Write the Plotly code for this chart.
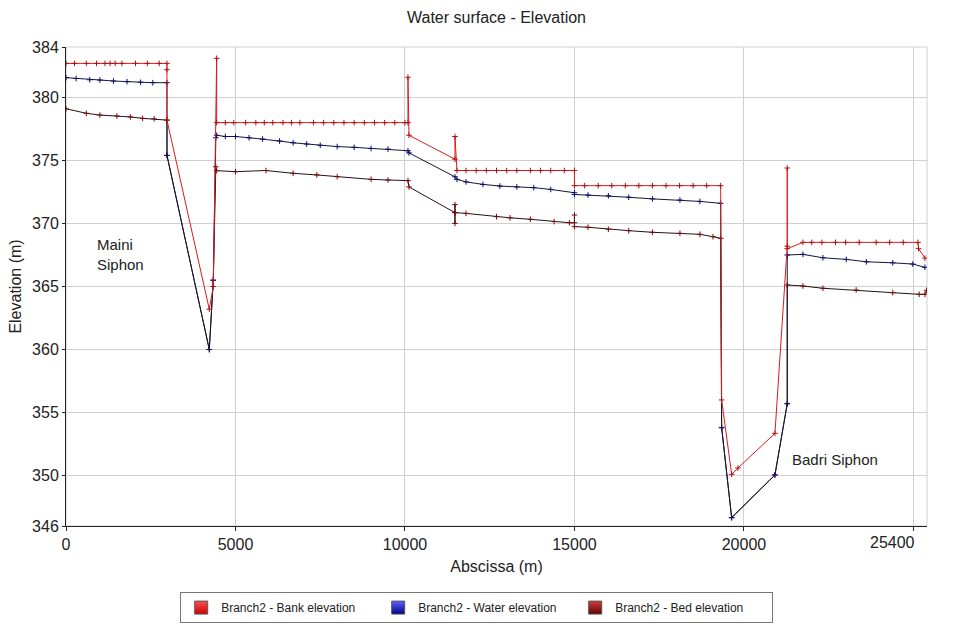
import plotly.graph_objects as go

# ---------------- data ----------------
bank_x = [0, 250, 600, 900, 1150, 1300, 1450, 1650, 2050, 2400, 2750, 2979, 2979, 2979,
          4227, 4345, 4445, 4445, 4700, 4950, 5300, 5600, 5850, 6100, 6400, 6650, 6900,
          7300, 7600, 7900, 8200, 8500, 8800, 9100, 9400, 9700, 10000, 10088, 10088,
          10118, 11475, 11475, 11534, 11800, 12100, 12400, 12700, 13000, 13300, 13700,
          14000, 14300, 14700, 15000, 15000, 15300, 15700, 16100, 16500, 16900, 17300,
          17700, 18100, 18500, 18900, 19313, 19342, 19637, 19823, 20914, 21277, 21277,
          21277, 21740, 22000, 22300, 22700, 23000, 23400, 23900, 24300, 24700, 25133,
          25150, 25339]
bank_y = [382.7, 382.7, 382.7, 382.7, 382.7, 382.7, 382.7, 382.7, 382.7, 382.7, 382.7,
          382.7, 382.2, 378.2, 363.2, 365.0, 383.1, 378.0, 378.0, 378.0, 378.0, 378.0,
          378.0, 378.0, 378.0, 378.0, 378.0, 378.0, 378.0, 378.0, 378.0, 378.0, 378.0,
          378.0, 378.0, 378.0, 378.0, 378.0, 381.6, 377.0, 375.1, 376.9, 374.2, 374.2,
          374.2, 374.2, 374.2, 374.2, 374.2, 374.2, 374.2, 374.2, 374.2, 374.2, 373.0,
          373.0, 373.0, 373.0, 373.0, 373.0, 373.0, 373.0, 373.0, 373.0, 373.0, 373.0,
          356.0, 350.1, 350.6, 353.35, 368.2, 374.4, 368.0, 368.5, 368.5, 368.5, 368.5,
          368.5, 368.5, 368.5, 368.5, 368.5, 368.5, 368.0, 367.25]

water_x = [0, 300, 700, 1000, 1400, 1800, 2200, 2560, 2979, 2979, 4227, 4345, 4420, 4445,
           4700, 5000, 5400, 5800, 6300, 6700, 7100, 7500, 8000, 8500, 9000, 9500, 10088,
           10118, 11475, 11534, 11800, 12300, 12800, 13300, 13800, 14300, 15000, 15000,
           15400, 16000, 16600, 17300, 18112, 18700, 19313, 19342, 19637, 20914, 21277,
           21277, 21740, 22330, 23020, 23610, 24390, 24980, 25339]
water_y = [381.57, 381.5, 381.4, 381.38, 381.3, 381.25, 381.2, 381.17, 381.17, 375.4,
           360.0, 365.5, 376.8, 377.0, 376.9, 376.9, 376.8, 376.7, 376.54, 376.4, 376.3,
           376.2, 376.1, 376.04, 375.95, 375.9, 375.77, 375.6, 373.7, 373.5, 373.3, 373.1,
           372.97, 372.9, 372.84, 372.7, 372.44, 372.3, 372.26, 372.2, 372.08, 371.95,
           371.86, 371.75, 371.6, 353.8, 346.66, 350.05, 355.7, 367.5, 367.55, 367.28,
           367.15, 366.96, 366.88, 366.78, 366.52]

bed_x = [0, 600, 1000, 1500, 1900, 2260, 2600, 2979, 2979, 4227, 4345, 4420, 4445, 5000,
         5900, 6700, 7400, 8000, 9000, 9500, 10088, 10118, 11475, 11475, 11475, 11475,
         11800, 12700, 13100, 13700, 14400, 14850, 15000, 15000, 15000, 15400, 16000,
         16600, 17300, 18112, 18702, 19086, 19313, 19342, 19637, 20914, 21277, 21277,
         21740, 22330, 23310, 24390, 25170, 25339, 25389]
bed_y = [379.1, 378.74, 378.6, 378.53, 378.45, 378.34, 378.3, 378.2, 375.4, 360.0, 365.5,
         374.5, 374.19, 374.11, 374.2, 373.98, 373.85, 373.71, 373.5, 373.45, 373.4,
         372.9, 370.86, 371.5, 370.0, 370.86, 370.8, 370.54, 370.45, 370.33, 370.15,
         370.06, 370.06, 370.67, 369.75, 369.7, 369.54, 369.43, 369.3, 369.22, 369.14,
         368.95, 368.82, 353.8, 346.66, 350.05, 355.7, 365.12, 365.04, 364.86, 364.72,
         364.51, 364.38, 364.38, 364.7]

series_names = ["Branch2 - Bank elevation", "Branch2 - Water elevation",
                "Branch2 - Bed elevation"]
y_ticks = [346, 350, 355, 360, 365, 370, 375, 380, 384]
x_ticks = [0, 5000, 10000, 15000, 20000, 25000]
x_ticktext = ["0", "5000", "10000", "15000", "20000", ""]
last_x_label = "25400"

FONT = "Liberation Sans, Arial, sans-serif"

fig = go.Figure()

# draw order: bed, water, bank (bank on top)
fig.add_trace(go.Scatter(
    x=bed_x, y=bed_y, mode="lines+markers", showlegend=False,
    line=dict(color="#2a1010", width=1),
    marker=dict(symbol="cross-thin", size=4, line=dict(color="#7a0a0a", width=1))))
fig.add_trace(go.Scatter(
    x=water_x, y=water_y, mode="lines+markers", showlegend=False,
    line=dict(color="#15153a", width=1),
    marker=dict(symbol="cross-thin", size=4, line=dict(color="#0a0a70", width=1))))
fig.add_trace(go.Scatter(
    x=bank_x, y=bank_y, mode="lines+markers", showlegend=False,
    line=dict(color="#dd1a1a", width=1),
    marker=dict(symbol="cross-thin", size=4, line=dict(color="#b01010", width=1))))

# legend swatches
sw_colors = [("#ff5050", "#cc0000"), ("#6060ff", "#000080"), ("#d04040", "#600000")]
for name, (c1, c2) in zip(series_names, sw_colors):
    fig.add_trace(go.Scatter(
        x=[None], y=[None], mode="markers", name=name,
        marker=dict(symbol="square", size=13, color=c1,
                    gradient=dict(type="vertical", color=c2),
                    line=dict(color="#555555", width=1))))

fig.update_layout(
    width=958, height=630,
    margin=dict(l=66, r=31, t=47, b=104, autoexpand=False),
    paper_bgcolor="white", plot_bgcolor="white",
    font=dict(family=FONT, size=16, color="#222222"),
    title=dict(text="Water surface - Elevation", x=0.5, xref="paper", y=0.973,
               yanchor="middle", font=dict(family=FONT, size=16, color="#222222")),
    showlegend=True,
    legend=dict(orientation="h", x=0.477, xanchor="center", y=-0.138, yanchor="top",
                bordercolor="#777777", borderwidth=1, bgcolor="white",
                font=dict(family=FONT, size=12, color="#222222"),
                itemwidth=30, entrywidth=152, entrywidthmode="pixels"),
    xaxis=dict(range=[0, 25400], tickvals=x_ticks, ticktext=x_ticktext,
               automargin=False,
               showgrid=True, gridcolor="#cfcfcf", gridwidth=1, zeroline=False,
               showline=True, linecolor="#222222", linewidth=1,
               ticks="outside", ticklen=4, tickcolor="#222222",
               title=dict(text="Abscissa (m)", standoff=8,
                          font=dict(family=FONT, size=16, color="#222222"))),
    yaxis=dict(range=[346, 384], tickvals=y_ticks, automargin=False,
               showgrid=True, gridcolor="#cfcfcf", gridwidth=1, zeroline=False,
               showline=True, linecolor="#222222", linewidth=1,
               ticks="outside", ticklen=3, tickcolor="#222222",
               title=dict(text="Elevation (m)", standoff=6,
                          font=dict(family=FONT, size=16, color="#222222"))),
    shapes=[dict(type="rect", xref="paper", yref="paper", x0=0, y0=0, x1=1, y1=1,
                 line=dict(color="#cfcfcf", width=1), layer="below")],
    annotations=[
        dict(text="Maini<br>Siphon", x=850, y=367.5, xref="x", yref="y",
             xanchor="left", yanchor="middle", align="left", showarrow=False,
             font=dict(family=FONT, size=15, color="#222222")),
        dict(text="Badri Siphon", x=21357, y=351.3, xref="x", yref="y",
             xanchor="left", yanchor="middle", align="left", showarrow=False,
             font=dict(family=FONT, size=15, color="#222222")),
        dict(text=last_x_label, x=25000, y=0, xref="x", yref="paper",
             xanchor="right", yanchor="top", xshift=4, yshift=-6, showarrow=False,
             font=dict(family=FONT, size=16, color="#222222")),
    ],
)

fig.write_html("out.html")
